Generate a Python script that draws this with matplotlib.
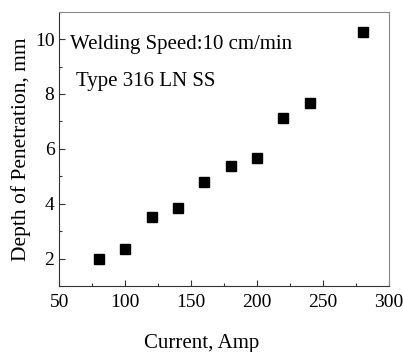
import matplotlib
matplotlib.use("Agg")
import matplotlib.pyplot as plt
from matplotlib.ticker import MultipleLocator

current = [80, 100, 120, 140, 160, 180, 200, 220, 240, 280]
depth = [2.0, 2.34, 3.52, 3.83, 4.80, 5.37, 5.68, 7.12, 7.67, 10.25]
x_ticks = [50, 100, 150, 200, 250, 300]
y_ticks = [2, 4, 6, 8, 10]

plt.rcParams['font.family'] = ['Liberation Serif', 'DejaVu Serif']

fig = plt.figure(figsize=(4.03, 3.52), dpi=100)
ax = fig.add_axes([59.3 / 403, 1 - 286 / 352, (389 - 59.3) / 403, (286 - 11.7) / 352])

ax.plot(current, depth, linestyle='none', marker='s', ms=6.5, color='black')

ax.set_xlim(50, 300)
ax.set_ylim(1, 11)
ax.set_xticks(x_ticks)
ax.set_yticks(y_ticks)
ax.xaxis.set_minor_locator(MultipleLocator(25))
ax.yaxis.set_minor_locator(MultipleLocator(1))
ax.tick_params(which='both', direction='in', labelsize=14, width=0.8, color='#333333')
ax.tick_params(which='major', length=4)
ax.tick_params(which='minor', length=2.5)
ax.tick_params(axis='x', pad=6)
for side in ['top', 'right']:
    ax.spines[side].set_color('#888888')
for side in ['left', 'bottom']:
    ax.spines[side].set_color('#333333')

ax.set_xlabel('Current, Amp', fontsize=15, labelpad=14)
ax.xaxis.set_label_coords(0.432, -0.175)
ax.set_ylabel('Depth of Penetration, mm', fontsize=15.5, labelpad=3)

ax.text(0.032, 0.879, 'Welding Speed:10 cm/min', transform=ax.transAxes,
        fontsize=15, va='center')
ax.text(0.051, 0.744, 'Type 316 LN SS', transform=ax.transAxes,
        fontsize=15, va='center')

fig.savefig('out.png', dpi=100)
